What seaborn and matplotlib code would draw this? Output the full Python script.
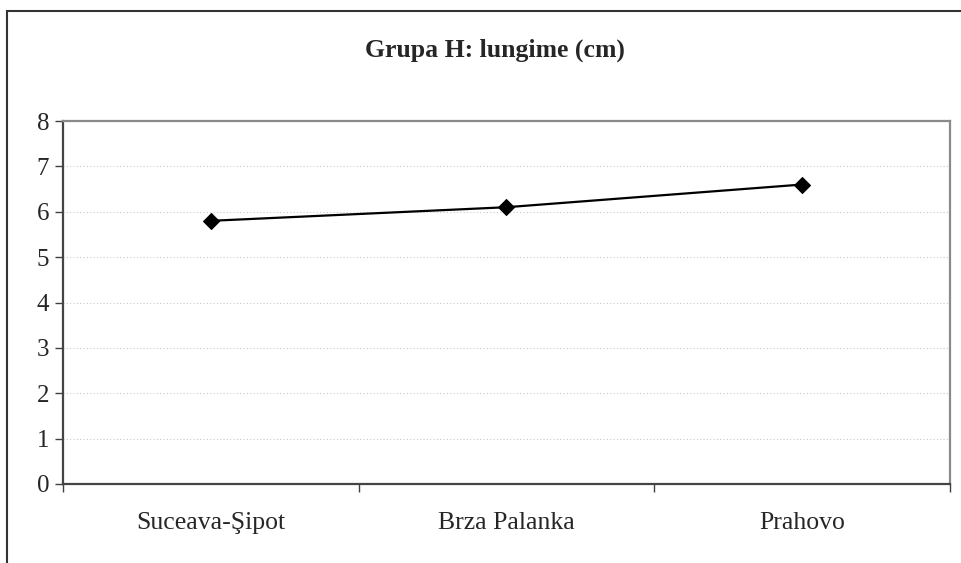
import pandas as pd
import matplotlib.pyplot as plt
import matplotlib.patches as patches
from matplotlib.ticker import FixedLocator, NullFormatter
import seaborn as sns

# Date: lungime medie pe statie
statii = ['Suceava-Şipot', 'Brza Palanka', 'Prahovo']
lungime = [5.8, 6.1, 6.6]
y_ticks = [0, 1, 2, 3, 4, 5, 6, 7, 8]

sns.set_style('white')
plt.rcParams['font.family'] = ['Liberation Serif', 'DejaVu Serif']

df = pd.DataFrame({'statie': statii, 'lungime': lungime})

fig = plt.figure(figsize=(9.62, 5.63), dpi=100)
ax = fig.add_axes([63 / 962, 1 - 484 / 563, (950 - 63) / 962, (484 - 121) / 563])

sns.lineplot(data=df, x='statie', y='lungime', ax=ax, color='black',
             linewidth=1.6, marker='D', markersize=8, markeredgecolor='black',
             sort=False)

ax.set_xlim(-0.5, len(statii) - 0.5)
ax.set_ylim(0, 8)
ax.set_yticks(y_ticks)
ax.set_xlabel('')
ax.set_ylabel('')

# ticks la granitele categoriilor, etichete in mijloc
ax.xaxis.set_major_locator(FixedLocator([i - 0.5 for i in range(len(statii) + 1)]))
ax.xaxis.set_major_formatter(NullFormatter())
ax.xaxis.set_minor_locator(FixedLocator(list(range(len(statii)))))
ax.set_xticklabels(statii, minor=True)
ax.tick_params(axis='x', which='major', direction='out', length=6, width=1, color='#404040', bottom=True)
ax.tick_params(axis='x', which='minor', length=0, pad=20, labelsize=18.5)
ax.tick_params(axis='y', direction='out', length=6, width=1, color='#404040', left=True, labelsize=18, pad=4)

for v in y_ticks[1:-1]:
    ax.axhline(v, color='#c8c8c8', linestyle=(0, (1, 2)), linewidth=0.8, zorder=0)

for s in ['top', 'right']:
    ax.spines[s].set_color('#8a8a8a')
    ax.spines[s].set_linewidth(1.6)
for s in ['left', 'bottom']:
    ax.spines[s].set_color('#444444')
    ax.spines[s].set_linewidth(1.6)

fig.text(0.515, 1 - 50 / 563, 'Grupa H: lungime (cm)', ha='center', va='center',
         fontsize=18.5, fontweight='bold')

# chenarul exterior al graficului
fig.patches.append(patches.Rectangle((7 / 962, -0.1), 1.0, (563 - 11) / 563 + 0.1,
                                     transform=fig.transFigure, fill=False,
                                     edgecolor='#333333', linewidth=1.5))

fig.savefig('out.png', dpi=100)
